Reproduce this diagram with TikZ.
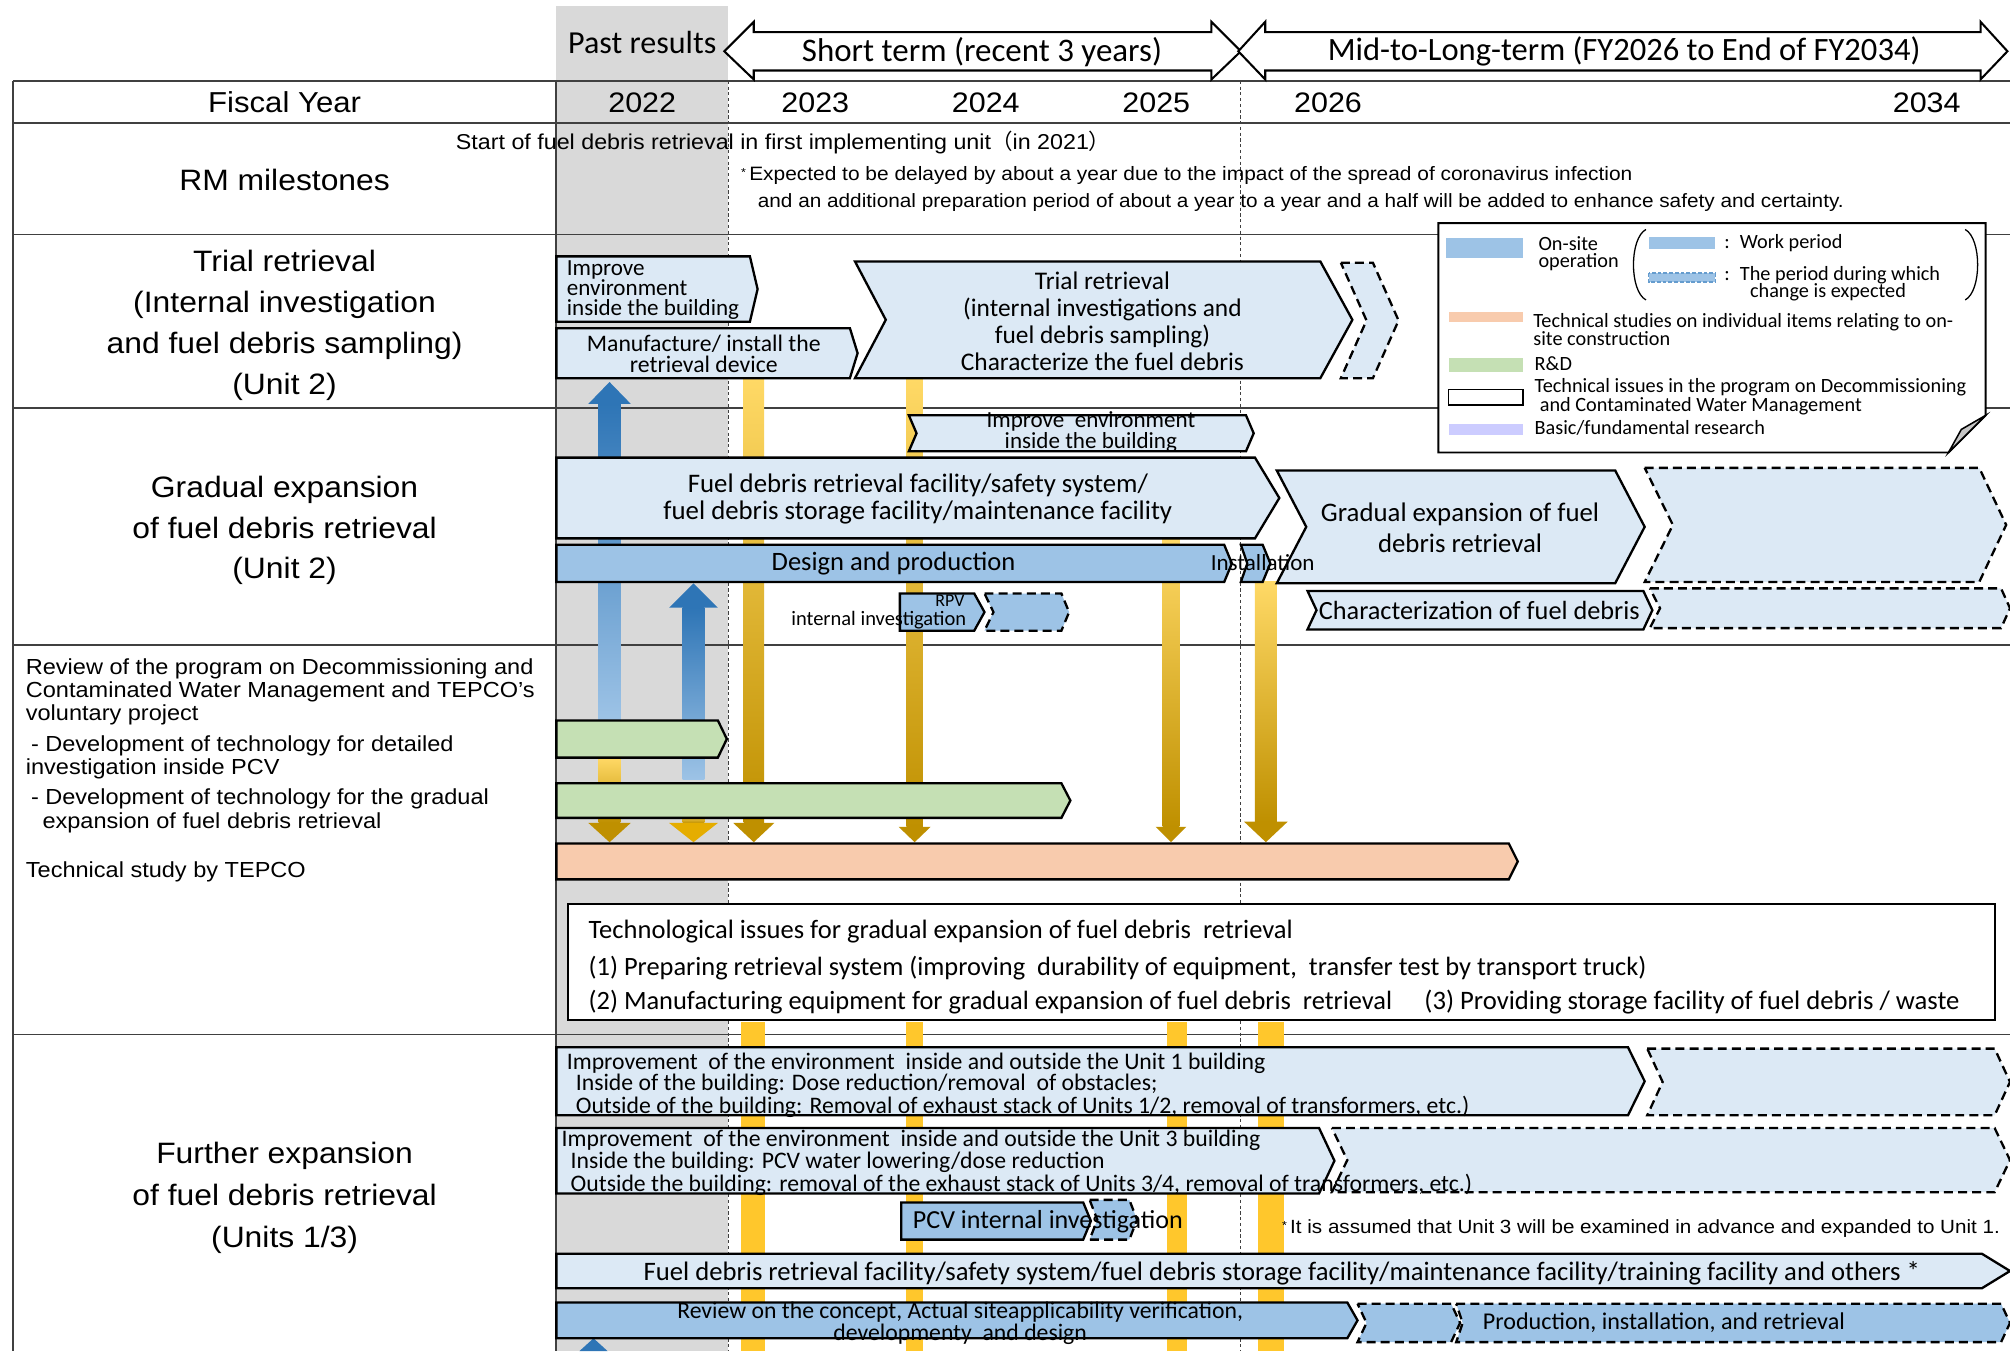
\documentclass[tikz,border=0pt]{standalone}
\usepackage{fontspec}
\setmainfont[FakeStretch=1.08]{Liberation Sans}
\newfontfamily\carl{Carlito}
\newfontfamily\cjkf{Noto Sans CJK JP}
\usetikzlibrary{calc}
\definecolor{lblue}{HTML}{DCE9F5}
\definecolor{mblue}{HTML}{9DC3E6}
\definecolor{dblue}{HTML}{2E75B6}
\definecolor{rdgreen}{HTML}{C5E0B4}
\definecolor{salmon}{HTML}{F8CBAD}
\definecolor{pastgray}{HTML}{D9D9D9}
\definecolor{lavender}{HTML}{CCCCFF}
\definecolor{goldlight}{HTML}{FFD966}
\definecolor{goldtop}{HTML}{FFC000}
\definecolor{golddark}{HTML}{BF9000}
\definecolor{barylw}{HTML}{FFC72C}
\definecolor{gridline}{HTML}{404040}
\newcommand\myC[2]{\carl\fontsize{#1}{#2}\selectfont}
\newcommand\myA[2]{\fontsize{#1}{#2}\selectfont}
% chevron: style, x1, y1, x2, y2, tip, notch
\newcommand\chev[7][]{\path[#1] (#2,#3) -- (#4,#3) -- ({#4+#6},{(#3+#5)/2}) -- (#4,#5) -- (#2,#5) -- ({#2+#7},{(#3+#5)/2}) -- cycle;}
% gold arrow: x, shaft half, top, head base, head half, tip, head colour
\newcommand\garrow[7]{\shade[top color=goldlight, middle color=goldtop, bottom color=golddark] ({#1-#2},#3) rectangle ({#1+#2},#4);
\fill[#7] ({#1-#5},#4) -- ({#1+#5},#4) -- (#1,#6) -- cycle;}
% blue arrow: x, shaft half, bottom, head base, head half, tip
\newcommand\barrow[6]{\shade[top color=dblue, bottom color=mblue] ({#1-#2},#4) rectangle ({#1+#2},#3);
\fill[dblue] ({#1-#5},#4) -- ({#1+#5},#4) -- (#1,#6) -- cycle;}
\newcommand\dblarrow[3]{\draw[fill=white, draw=black, line width=1.6pt, line join=miter] (#1,40) -- ({#1+#3},17) -- ({#1+#3},25) -- ({#2-#3},25) -- ({#2-#3},17) -- (#2,40) -- ({#2-#3},62) -- ({#2-#3},55) -- ({#1+#3},55) -- ({#1+#3},62) -- cycle;}
\begin{document}
\begin{tikzpicture}[x=1pt,y=-1pt,
  box/.style={draw=black, line width=1.8pt, line join=miter},
  lb/.style={box, fill=lblue},
  mb/.style={box, fill=mblue},
  gb/.style={box, fill=rdgreen},
  sb/.style={box, fill=salmon},
  dsh/.style={dash pattern=on 7pt off 4pt},
  grid/.style={draw=gridline, line width=1.4pt},
  yr/.style={dash pattern=on 2.5pt off 2pt, draw=gridline, line width=0.7pt},
  tx/.style={inner sep=0pt, align=center},
  txl/.style={inner sep=0pt, align=left},
  lab/.style={inner sep=0pt, align=center, font=\myA{23}{32}},
  bt/.style={inner sep=0pt, align=center, font=\myC{19.8}{21}},
  lg/.style={inner sep=0pt, align=left, anchor=west, font=\myC{15.8}{13.5}},
]
\useasboundingbox (0,0) rectangle (1568,1054);
\fill[white] (0,0) rectangle (1568,1054);
\fill[pastgray] (434,5) rectangle (568,1054);

% table grid
\foreach \yy in {63,96,183,318,503,807} {\draw[grid] (10,\yy) -- (1568,\yy);}
\draw[grid] (10,63) -- (10,1054);
\draw[grid] (434,63) -- (434,1054);
\draw[yr] (568,63) -- (568,1054);
\draw[yr] (968,63) -- (968,1054);

% header arrows
\dblarrow{565}{968}{23}
\dblarrow{966}{1566}{21}
\node[tx, font=\myC{25}{25}] (past) at (501,33) {Past results};
\node[tx, font=\myC{25.7}{25}] (short) at (766,41) {Short term (recent 3 years)};
\node[tx, font=\myC{25.4}{25}] (midlong) at (1267,40) {Mid-to-Long-term (FY2026 to End of FY2034)};

% header row
\node[lab, font=\myA{22.5}{22.5}] (fy) at (222,80) {Fiscal Year};
\node[lab, font=\myA{22}{22}] (y22) at (501,80) {2022};
\node[lab, font=\myA{22}{22}] (y23) at (636,80) {2023};
\node[lab, font=\myA{22}{22}] (y24) at (769,80) {2024};
\node[lab, font=\myA{22}{22}] (y25) at (902,80) {2025};
\node[lab, font=\myA{22}{22}] (y26) at (1036,80) {2026};
\node[lab, font=\myA{22}{22}] (y34) at (1503,80) {2034};

% row labels
\node[lab] (rm) at (222,140) {RM milestones};
\node[lab] (trial) at (222,253.5) {Trial retrieval\\(Internal investigation\\and fuel debris sampling)\\(Unit 2)};
\node[lab, font=\myA{23}{31.5}] (grad) at (222,414) {Gradual expansion\\of fuel debris retrieval\\(Unit 2)};
\node[lab, font=\myA{23}{33}] (further) at (222,934.5) {Further expansion\\of fuel debris retrieval\\(Units 1/3)};
\node[txl, anchor=west, font=\myA{17}{18}] (rev1) at (20,540) {Review of the program on Decommissioning and\\Contaminated Water Management and TEPCO's\\voluntary project};
\node[txl, anchor=west, font=\myA{17}{18}] (rev2) at (20,591) {\hspace*{4pt}- Development of technology for detailed\\investigation inside PCV};
\node[txl, anchor=west, font=\myA{17}{18.5}] (rev3) at (20,632.5) {\hspace*{4pt}- Development of technology for the gradual\\\hspace*{13pt}expansion of fuel debris retrieval};
\node[txl, anchor=west, font=\myA{17}{18}] (rev4) at (20,680) {Technical study by TEPCO};

% RM milestone texts
\node[tx, font=\myA{16.8}{16}] (rmstart) at (611,111) {Start of fuel debris retrieval in first implementing unit{\cjkf （}in 2021{\cjkf ）}};
\node[txl, anchor=west, font=\myA{15.1}{15}] (rmnote1) at (578,137) {\raisebox{3pt}{\fontsize{9}{9}\selectfont *}\,Expected to be delayed by about a year due to the impact of the spread of coronavirus infection};
\node[txl, anchor=west, font=\myA{15}{15}] (rmnote2) at (591,158) {and an additional preparation period of about a year to a year and a half will be added to enhance safety and certainty.};

% arrows (behind boxes)
\garrow{588}{8}{295}{642}{16}{657}{golddark}
\garrow{713.5}{6.5}{295}{645}{12.5}{657}{golddark}
\garrow{913.5}{6.5}{420}{645}{12}{657}{golddark}
\garrow{987.5}{8.5}{454}{641}{17}{657}{golddark}
\garrow{475.5}{8.5}{591}{642}{16.5}{657}{golddark}
\garrow{541}{8.5}{636}{642}{19}{657}{goldtop!60!golddark}
\barrow{475.5}{8.5}{562}{315}{16.5}{298}
\barrow{541}{8.5}{608}{474}{19}{455}
\fill[fill=barylw] (578,797) rectangle (597,1054);
\fill[fill=barylw] (707,797) rectangle (720,1054);
\fill[fill=barylw] (910,797) rectangle (926,1054);
\fill[fill=barylw] (981,797) rectangle (1002,1054);
\fill[dblue] (452,1054) -- (474,1054) -- (463,1044) -- cycle;

% Trial retrieval row
\chev[lb]{434}{200}{585}{251}{6}{0}
\node[txl, anchor=west, font=\myC{18}{15.5}] (imp1) at (442,226.5) {Improve\\environment\\inside the building};
\chev[lb]{434}{256}{663}{295}{6}{0}
\node[tx, font=\myC{18.5}{16}] (manu) at (549,276) {Manufacture/ install the\\retrieval device};
\chev[lb]{667}{204}{1030}{295}{25}{24}
\node[bt] (trialbox) at (860,250.5) {Trial retrieval\\(internal investigations and\\fuel debris sampling)\\Characterize the fuel debris};
\chev[lb,dsh]{1046}{205}{1071}{295}{20}{20}

% Gradual expansion row
\chev[lb]{709}{324}{972}{352}{6}{6}
\node[tx, font=\myC{18}{16}] (imp2) at (851,337) {Improve\ \ environment\\inside the building};
\chev[lb]{434}{357}{979}{420}{19}{0}
\node[tx, font=\myC{20.9}{21}] (fdr1) at (716,389.5) {Fuel debris retrieval facility/safety system/\\fuel debris storage facility/maintenance facility};
\chev[mb]{434}{425}{955}{454}{6}{0}
\node[tx, font=\myC{20.7}{20}] (design) at (697,440) {Design and production};
\chev[mb]{968}{425}{985}{454}{6}{5}
\chev[lb]{996}{367}{1260}{455}{23}{23}
\node[tx, font=\myC{20.9}{24}] (gexp) at (1139,412) {Gradual expansion of fuel\\debris retrieval};
\node[tx, font=\myC{18}{18}] (install) at (985,439) {Installation};
\chev[lb,dsh]{1283}{365}{1544}{454}{21}{22}
\chev[lb]{1020}{461}{1282}{491}{7}{7}
\node[tx, font=\myC{20.5}{20}] (charac) at (1154,476) {Characterization of fuel debris};
\chev[lb,dsh]{1287}{459}{1561}{490}{7}{8}
\chev[mb]{702}{463}{760}{492}{8}{0}
\chev[mb,dsh]{768}{463}{828}{492}{6}{7}
\node[tx, font=\myC{14}{14}] (rpv) at (741,469) {RPV};
\node[tx, font=\myC{16}{16}] (rpvinv) at (685.5,484) {internal investigation};

% Review section
\chev[gb]{434}{562}{560}{591}{7}{0}
\chev[gb]{434}{611}{828}{638}{7}{0}
\chev[sb]{434}{658}{1177}{686}{7}{0}
\draw[fill=white, draw=black, line width=1.5pt] (443,705) rectangle (1556,796);
\node[txl, anchor=west, font=\myC{20.7}{19}] (ti0) at (459,727) {Technological issues for gradual expansion of fuel debris\ \ retrieval};
\node[txl, anchor=west, font=\myC{20.6}{19}] (ti1) at (459,755) {(1) Preparing retrieval system (improving\ \ durability of equipment,\ \ transfer test by transport truck)};
\node[txl, anchor=west, font=\myC{20.6}{19}] (ti2) at (459,782) {(2) Manufacturing equipment for gradual expansion of fuel debris\ \ retrieval};
\node[txl, anchor=west, font=\myC{20.8}{19}] (ti3) at (1111,782) {(3) Providing storage facility of fuel debris / waste};

% Further expansion section
\chev[lb]{434}{817}{1270}{870}{13}{0}
\chev[lb,dsh]{1285}{818}{1556}{870}{12}{12}
\node[txl, anchor=west, font=\myC{18.5}{15.5}] (u1) at (442,846.5) {Improvement\ \ of the environment\ \ inside and outside the Unit 1 building\\\hspace*{7pt}Inside of the building: Dose reduction/removal\ \ of obstacles;\\\hspace*{7pt}Outside of the building: Removal of exhaust stack of Units 1/2, removal\ of transformers, etc.)};
\chev[lb]{434}{880}{1029}{931}{12}{0}
\chev[lb,dsh]{1039}{880}{1556}{930}{12}{12}
\node[txl, anchor=west, font=\myC{18.5}{15.5}] (u3) at (438,907) {Improvement\ \ of the environment\ \ inside and outside the Unit 3 building\\\hspace*{7pt}Inside the building: PCV water lowering/dose reduction\\\hspace*{7pt}Outside the building: removal of the exhaust stack of Units 3/4, removal of transformers, etc.)};
\chev[mb]{703}{938}{845}{967}{6}{0}
\chev[mb,dsh]{850}{936}{881}{967}{6}{6}
\node[txl, anchor=west, font=\myC{20.3}{20}] (pcv) at (712,953) {PCV internal investigation};
\node[txl, anchor=west, font=\myA{14.9}{14.5}] (note) at (1000,958) {\raisebox{3pt}{\fontsize{9}{9}\selectfont *}\,It is assumed that Unit 3 will be examined in advance and expanded to Unit 1.};
\chev[lb]{434}{978}{1546}{1005}{22}{0}
\node[tx, font=\myC{20.8}{19}] (fdr2) at (1000,993) {Fuel debris retrieval facility/safety system/fuel debris storage facility/maintenance facility/training facility and others *};
\chev[mb]{434}{1016}{1051}{1044}{8}{0}
\node[tx, font=\myC{18.5}{15}] (review) at (749,1032.5) {Review on the concept, Actual siteapplicability verification,\\developmenty\ \ and design};
\chev[mb,dsh]{1059}{1017}{1132}{1047}{7}{7}
\chev[mb,dsh]{1136}{1017}{1561}{1047}{7}{5}
\node[tx, font=\myC{18.8}{19}] (prod) at (1298,1032) {Production, installation, and retrieval};

% legend
\draw[fill=white, draw=black, line width=1.5pt, line join=miter] (1122,174) -- (1549,174) -- (1549,324) -- (1520,353) -- (1122,353) -- cycle;
\filldraw[fill=gray!45, draw=black, line width=1.2pt, line join=miter] (1549,324) -- (1520,353) -- (1530,335) -- cycle;
\fill[mblue] (1128,186) rectangle (1188,201);
\node[lg] (lonsite) at (1200,198) {On-site\\operation};
\draw[line width=1pt] (1284,179) .. controls (1271,186) and (1271,227) .. (1284,234);
\draw[line width=1pt] (1533,179) .. controls (1546,186) and (1546,227) .. (1533,234);
\fill[mblue] (1286,185) rectangle (1338,194);
\node[lg] (lwork) at (1345,189.5) {:\enspace Work period};
\fill[mblue] (1286,213) rectangle (1338,220);
\draw[draw=dblue!50!mblue, line width=1pt, dash pattern=on 3pt off 1.5pt] (1286,213) rectangle (1338,220);
\node[lg] (lchange) at (1345,214.5) {:\enspace The period during which};
\node[tx, font=\myC{15.8}{13.5}] (lchange2) at (1426,228) {change is expected};
\fill[salmon] (1130,243) rectangle (1188,251);
\node[lg] (ltech) at (1196,257) {Technical studies on individual items relating to on-\\site construction};
\fill[rdgreen] (1130,279) rectangle (1188,290);
\node[lg] (lrd) at (1197,284) {R\&D};
\draw[fill=white, line width=1pt] (1130,304) rectangle (1188,316);
\node[lg] (lissue) at (1197,309.5) {Technical issues in the program on Decommissioning\\\hspace*{4pt}and Contaminated Water Management};
\fill[lavender] (1130,331) rectangle (1188,339);
\node[lg] (lbasic) at (1197,334) {Basic/fundamental research};
\end{tikzpicture}
\end{document}
